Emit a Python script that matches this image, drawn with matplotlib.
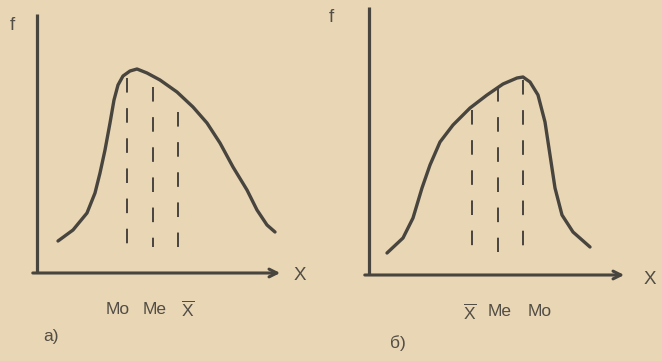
import matplotlib
matplotlib.use('Agg')
import matplotlib.pyplot as plt

plt.rcParams['font.family'] = ['Liberation Sans', 'DejaVu Sans']
plt.rcParams['mathtext.fontset'] = 'custom'
plt.rcParams['mathtext.rm'] = 'Liberation Sans'

# кривая а) - правосторонняя асимметрия
a_x = [21, 36, 50, 58, 63, 68, 73, 77, 81, 86, 93, 100, 110, 123, 140, 156, 170, 183, 196, 210, 220, 230, 238]
a_f = [32, 43, 60, 80, 100, 123, 150, 173, 188, 197, 202, 204, 200, 193, 181, 166, 150, 130, 106, 83, 63, 48, 41]
a_lines_x = [90, 116, 141]
a_lines_top = [195, 186, 161]
a_labels = ['Mo', 'Me', r'$\overline{\mathrm{X}}$']
a_labels_x = [81, 118, 151]

# кривая б) - левосторонняя асимметрия
b_x = [18, 34, 44, 53, 61, 71, 84, 101, 118, 134, 148, 154, 161, 169, 176, 181, 186, 193, 204, 221]
b_f = [22, 37, 57, 87, 110, 133, 150, 167, 180, 191, 197, 198, 193, 180, 153, 120, 87, 60, 43, 28]
b_lines_x = [103, 129, 154]
b_lines_top = [165, 188, 195]
b_labels = [r'$\overline{\mathrm{X}}$', 'Me', 'Mo']
b_labels_x = [101, 131, 171]

ink = '#48443e'
txt = '#524d45'
bg = '#e9d6b4'

fig = plt.figure(figsize=(6.62, 3.61), dpi=100)
fig.patch.set_facecolor(bg)

W, H = 662, 361


def panel(left, top, right, bottom, xs, fs, lx, ltop, lbot, labels, labx, laby, name, namex, namey, fx, fy, xx, xy):
    ax = fig.add_axes([left / W, (H - bottom) / H, (right - left) / W, (bottom - top) / H])
    ax.set_xlim(0, right - left)
    ax.set_ylim(0, bottom - top)
    ax.axis('off')
    # оси
    ax.plot([0, 0], [0, bottom - top], color=ink, lw=2.3, clip_on=False, solid_capstyle='butt')
    ax.annotate('', xy=(right - left, 0), xytext=(-7, 0),
                arrowprops=dict(arrowstyle='->', color=ink, lw=2.2, mutation_scale=14),
                annotation_clip=False)
    # кривая
    ax.plot(xs, fs, color=ink, lw=2.4, solid_joinstyle='round', solid_capstyle='round', clip_on=False)
    # пунктир (сверху вниз)
    for x, t in zip(lx, ltop):
        ax.plot([x, x], [t, lbot], color=ink, lw=1.4, dashes=(7.5, 8), clip_on=False)
    for s, x in zip(labels, labx):
        ax.text(x, laby, s, ha='center', va='center', fontsize=12.5, color=txt)
    ax.text(namex, namey, name, ha='center', va='center', fontsize=12.5, color=txt)
    ax.text(fx, fy, 'f', ha='center', va='center', fontsize=13.5, color=txt)
    ax.text(xx, xy, 'X', ha='center', va='center', fontsize=13.5, color=txt)
    return ax


panel(37, 14, 283, 273, a_x, a_f, a_lines_x, a_lines_top, 26,
      a_labels, a_labels_x, -36, 'а)', 14, -64, -25, 248, 263, -2)
panel(369, 7, 627, 275, b_x, b_f, b_lines_x, b_lines_top, 23,
      b_labels, b_labels_x, -37, 'б)', 29, -68, -38, 257, 281, -5)

fig.savefig('out.png', dpi=100, facecolor=bg)
